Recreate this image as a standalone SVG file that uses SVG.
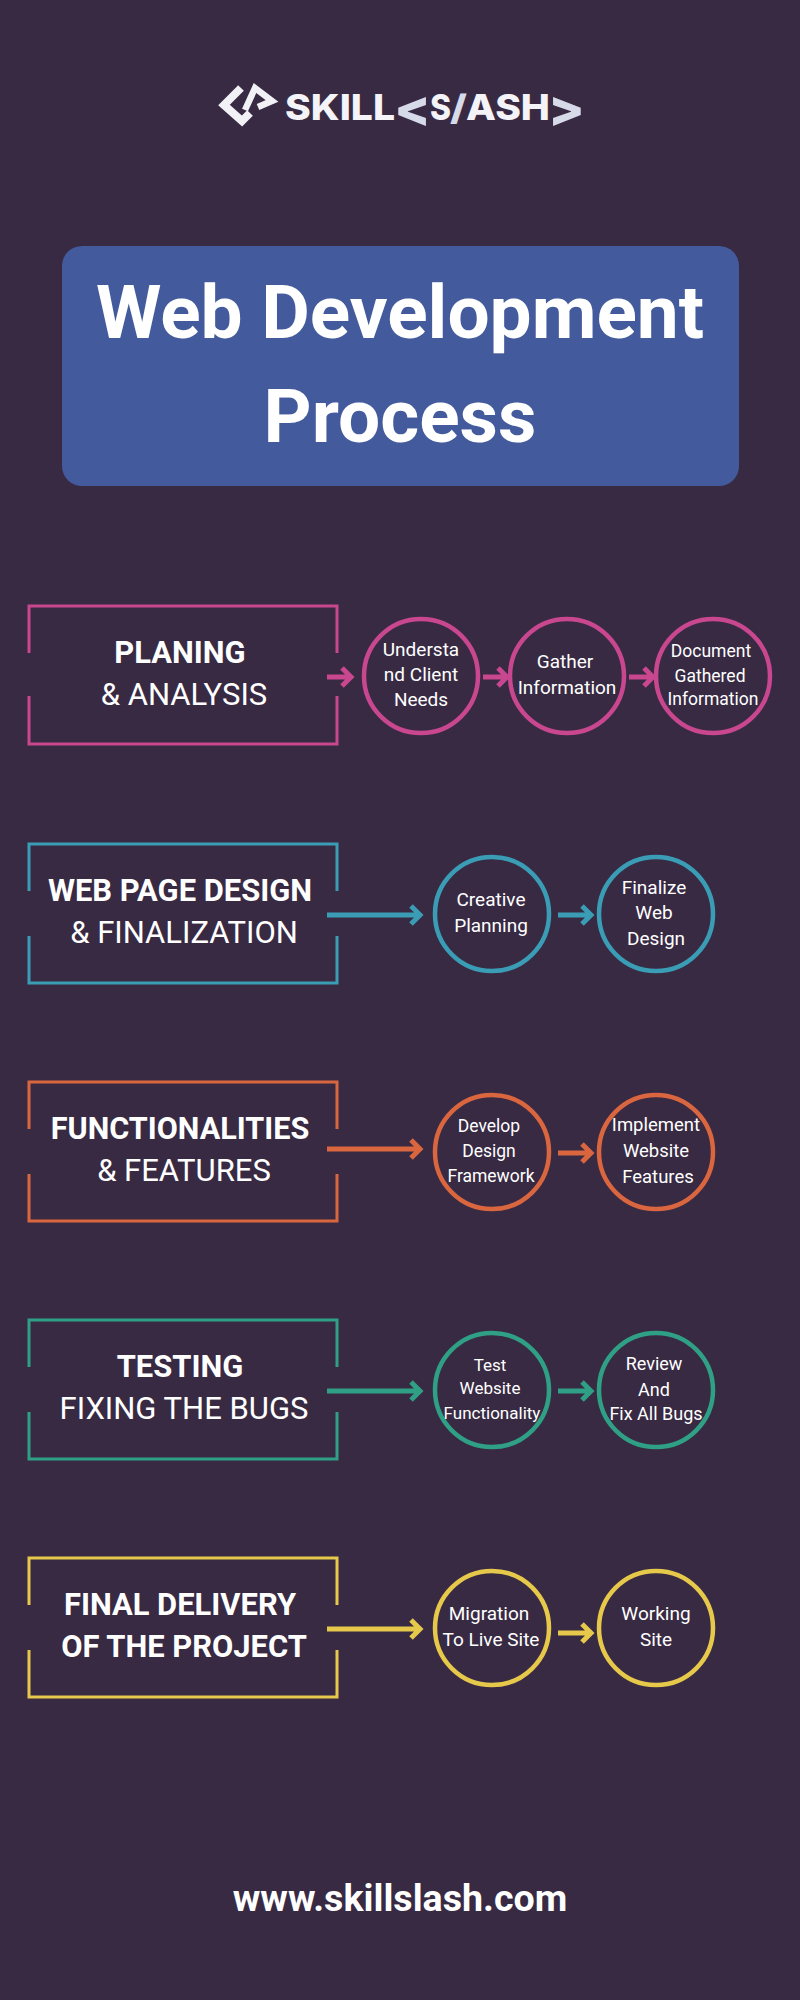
<svg xmlns="http://www.w3.org/2000/svg" width="800" height="2000" viewBox="0 0 800 2000">
<defs><style>
text{font-family:Roboto,"Liberation Sans",sans-serif;fill:#fff;text-anchor:middle}
.h{font-size:30.9px;font-weight:700}
.s{font-size:31px;font-weight:400}
.c{font-size:19px}
.m{font-size:18px}
.n{font-size:17.5px}
.t{font-size:17px}
.box,.cir,.arr{fill:none}
.box{stroke-width:3}
.cir{stroke-width:4.5}
.arr{stroke-width:5}
.pink{stroke:#c8478f}.blue{stroke:#3a9db5}.orange{stroke:#d9663f}.green{stroke:#2f9f85}.yellow{stroke:#e6c84a}
.logo{font-family:Inter,"Liberation Sans",sans-serif;font-weight:800;font-size:35px;text-anchor:start;fill:#f4f3f8}
.logo2{font-size:50px;fill:#d7dae8}
</style></defs>
<rect width="800" height="2000" fill="#382a43"/>
<g id="logo">
<path d="M241 88L224 105L242 121L250 113" fill="none" stroke="#f2f1f6" stroke-width="8"/>
<path d="M245 110L255 88L272 101L258 107" fill="none" stroke="#f2f1f6" stroke-width="6.5"/>
<text class="logo" x="285" y="120" textLength="110" lengthAdjust="spacingAndGlyphs">SKILL</text>
<text class="logo logo2" x="394" y="126" textLength="37" lengthAdjust="spacingAndGlyphs">&lt;</text>
<text class="logo" x="430" y="120" textLength="21" lengthAdjust="spacingAndGlyphs">S</text>
<text class="logo" style="fill:#d7dae8" x="450" y="120" textLength="17" lengthAdjust="spacingAndGlyphs">/</text>
<text class="logo" x="466" y="120" textLength="84" lengthAdjust="spacingAndGlyphs">ASH</text>
<text class="logo logo2" x="548" y="126" textLength="37" lengthAdjust="spacingAndGlyphs">&gt;</text>
</g>
<g id="title">
<rect x="62" y="246" width="677" height="240" rx="20" fill="#435a9c"/>
<text x="400" y="338" font-size="74.8" font-weight="700">Web Development</text>
<text x="400" y="442" font-size="74.8" font-weight="700">Process</text>
</g>
<g id="connectors">
<g class="arr pink"><path d="M327 677H350M342 668L351 677L342 686"/><path d="M483 677H506M498 668L507 677L498 686"/><path d="M629 677H652M644 668L653 677L644 686"/></g>
<g class="arr blue"><path d="M327 915H419M411 906L420 915L411 924"/><path d="M558 915H590M582 906L591 915L582 924"/></g>
<g class="arr orange"><path d="M327 1149H419M411 1140L420 1149L411 1158"/><path d="M558 1153H590M582 1144L591 1153L582 1162"/></g>
<g class="arr green"><path d="M327 1391H419M411 1382L420 1391L411 1400"/><path d="M558 1391H590M582 1382L591 1391L582 1400"/></g>
<g class="arr yellow"><path d="M327 1629H419M411 1620L420 1629L411 1638"/><path d="M558 1633H590M582 1624L591 1633L582 1642"/></g>
</g>
<g id="stage-planning">
<path class="box pink" d="M29 653V606H337V653M29 696V744H337V696"/>
<text class="h" x="180" y="663">PLANING</text><text class="s" x="184" y="705">&amp; ANALYSIS</text>
</g>
<g id="n-understand"><circle class="cir pink" cx="421" cy="676" r="57"/><text class="c" x="421" y="656">Understa</text><text class="c" x="421" y="681">nd Client</text><text class="c" x="421" y="706">Needs</text></g>
<g id="n-gather"><circle class="cir pink" cx="567" cy="676" r="57"/><text class="c" x="565" y="668">Gather</text><text class="c" x="567" y="694">Information</text></g>
<g id="n-document"><circle class="cir pink" cx="713" cy="676" r="57"/><text class="n" x="711" y="657">Document</text><text class="n" x="710" y="682">Gathered</text><text class="n" x="713" y="705">Information</text></g>
<g id="stage-design">
<path class="box blue" d="M29 891V844H337V891M29 936V983H337V936"/>
<text class="h" x="180" y="901">WEB PAGE DESIGN</text><text class="s" x="184" y="943">&amp; FINALIZATION</text>
</g>
<g id="n-creative"><circle class="cir blue" cx="492" cy="914" r="57"/><text class="c" x="491" y="906">Creative</text><text class="c" x="491" y="932">Planning</text></g>
<g id="n-finalize"><circle class="cir blue" cx="656" cy="914" r="57"/><text class="c" x="654" y="894">Finalize</text><text class="c" x="654" y="919">Web</text><text class="c" x="656" y="945">Design</text></g>
<g id="stage-functionalities">
<path class="box orange" d="M29 1129V1082H337V1129M29 1174V1221H337V1174"/>
<text class="h" x="180" y="1139" style="font-size:30.6px">FUNCTIONALITIES</text><text class="s" x="184" y="1181">&amp; FEATURES</text>
</g>
<g id="n-develop"><circle class="cir orange" cx="492" cy="1152" r="57"/><text class="n" x="489" y="1132">Develop</text><text class="n" x="489" y="1157">Design</text><text class="n" x="491" y="1182">Framework</text></g>
<g id="n-implement"><circle class="cir orange" cx="656" cy="1152" r="57"/><text class="c" style="font-size:18.5px" x="656" y="1131">Implement</text><text class="c" style="font-size:18.5px" x="656" y="1157">Website</text><text class="c" style="font-size:18.5px" x="658" y="1183">Features</text></g>
<g id="stage-testing">
<path class="box green" d="M29 1367V1320H337V1367M29 1412V1459H337V1412"/>
<text class="h" x="180" y="1377">TESTING</text><text class="s" x="184" y="1419">FIXING THE BUGS</text>
</g>
<g id="n-test"><circle class="cir green" cx="492" cy="1390" r="57"/><text class="t" x="490" y="1371">Test</text><text class="t" x="490" y="1394">Website</text><text class="t" x="492" y="1419">Functionality</text></g>
<g id="n-review"><circle class="cir green" cx="656" cy="1390" r="57"/><text class="m" x="654" y="1370">Review</text><text class="m" x="654" y="1396">And</text><text class="m" x="656" y="1420">Fix All Bugs</text></g>
<g id="stage-delivery">
<path class="box yellow" d="M29 1605V1558H337V1605M29 1650V1697H337V1650"/>
<text class="h" x="180" y="1615">FINAL DELIVERY</text><text class="h" x="184" y="1657">OF THE PROJECT</text>
</g>
<g id="n-migration"><circle class="cir yellow" cx="492" cy="1628" r="57"/><text class="c" x="489" y="1620">Migration</text><text class="c" x="491" y="1646">To Live Site</text></g>
<g id="n-working"><circle class="cir yellow" cx="656" cy="1628" r="57"/><text class="c" x="656" y="1620">Working</text><text class="c" x="656" y="1646">Site</text></g>
<text id="url" x="400" y="1911" font-size="37.6" font-weight="700">www.skillslash.com</text>
</svg>
